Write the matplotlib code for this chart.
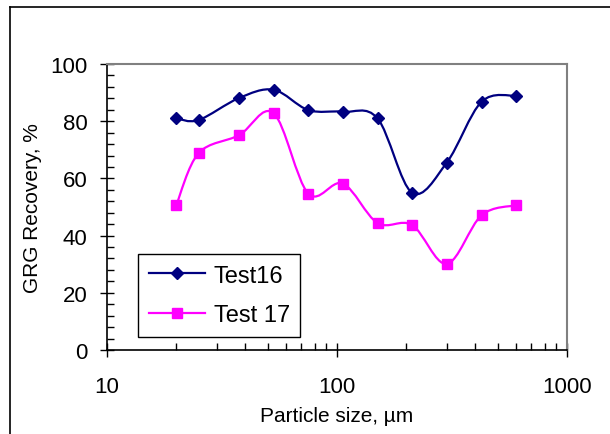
import numpy as np
import matplotlib.pyplot as plt
from matplotlib.path import Path
from matplotlib.patches import PathPatch
from matplotlib.lines import Line2D
from matplotlib.ticker import MultipleLocator, LogLocator, NullFormatter

plt.rcParams['font.family'] = ['Liberation Sans', 'DejaVu Sans']

# particle sizes (um) and recoveries (%)
size = [20, 25, 37.5, 53, 75, 106, 150, 212, 300, 425, 600]
test16 = [81.0, 80.4, 88.1, 91.0, 83.9, 83.3, 81.0, 55.0, 65.5, 86.8, 88.9]
test17 = [50.6, 68.8, 75.1, 82.8, 54.7, 58.2, 44.4, 43.7, 30.1, 47.1, 50.6]


def smooth_path(xs, ys):
    # Excel-like smoothed line: cubic bezier through the points in log-x space
    u = np.log10(xs)
    v = np.asarray(ys, float)
    n = len(u)
    verts = [(xs[0], v[0])]
    codes = [Path.MOVETO]
    for i in range(n - 1):
        a = max(i - 1, 0)
        b = min(i + 2, n - 1)
        c1 = (u[i] + (u[i + 1] - u[a]) / 6, v[i] + (v[i + 1] - v[a]) / 6)
        c2 = (u[i + 1] - (u[b] - u[i]) / 6, v[i + 1] - (v[b] - v[i]) / 6)
        verts += [(10 ** c1[0], c1[1]), (10 ** c2[0], c2[1]), (xs[i + 1], v[i + 1])]
        codes += [Path.CURVE4] * 3
    return Path(verts, codes)


fig = plt.figure(figsize=(6.1, 4.35), dpi=100)
ax = fig.add_axes([107 / 610, 84 / 435, 460 / 610, 286 / 435])

navy = '#000080'
pink = '#ff00ff'

ax.add_patch(PathPatch(smooth_path(size, test16), fill=False, ec=navy, lw=1.6, zorder=2))
ax.add_patch(PathPatch(smooth_path(size, test17), fill=False, ec=pink, lw=1.6, zorder=2))
ax.plot(size, test16, ls='none', marker='D', ms=6.3, color=navy, zorder=3)
ax.plot(size, test17, ls='none', marker='s', ms=7.5, color=pink, zorder=3)

ax.set_xscale('log')
ax.set_xlim(10, 1000)
ax.set_ylim(0, 100)
ax.yaxis.set_major_locator(MultipleLocator(20))
ax.yaxis.set_minor_locator(MultipleLocator(4))
ax.xaxis.set_minor_locator(LogLocator(base=10, subs=np.arange(2, 10)))
ax.xaxis.set_minor_formatter(NullFormatter())
ax.set_xticks([10, 100, 1000])
ax.set_xticklabels(['10', '100', '1000'])

ax.tick_params(which='major', direction='inout', length=10, width=1, labelsize=16)
ax.tick_params(which='minor', direction='in', length=5, width=1)
ax.tick_params(axis='y', which='major', pad=9)
ax.tick_params(axis='x', which='major', pad=14)

for side in ['top', 'right']:
    ax.spines[side].set_color('#808080')
    ax.spines[side].set_linewidth(1.5)
for side in ['left', 'bottom']:
    ax.spines[side].set_color('black')
    ax.spines[side].set_linewidth(1.2)

ax.set_xlabel('Particle size, µm', fontsize=15, labelpad=6)
ax.set_ylabel('GRG Recovery, %', fontsize=15, labelpad=6)

handles = [Line2D([], [], color=navy, lw=1.6, marker='D', ms=6.3),
           Line2D([], [], color=pink, lw=1.6, marker='s', ms=7.5)]
leg = ax.legend(handles, ['Test16', 'Test 17'], loc='lower left',
                bbox_to_anchor=(31 / 460, 13 / 286), fontsize=17, fancybox=False,
                framealpha=1, edgecolor='black', borderpad=0.45, handlelength=2.4,
                handletextpad=0.35, labelspacing=0.75, borderaxespad=0)
leg.get_frame().set_linewidth(1)

# outer chart border (only left and top show in the crop)
fig.add_artist(Line2D([10 / 610, 10 / 610], [0, 1 - 8 / 435], color='black', lw=1.2))
fig.add_artist(Line2D([10 / 610, 1], [1 - 8 / 435, 1 - 8 / 435], color='black', lw=1.2))

fig.savefig('out.png', dpi=100)
